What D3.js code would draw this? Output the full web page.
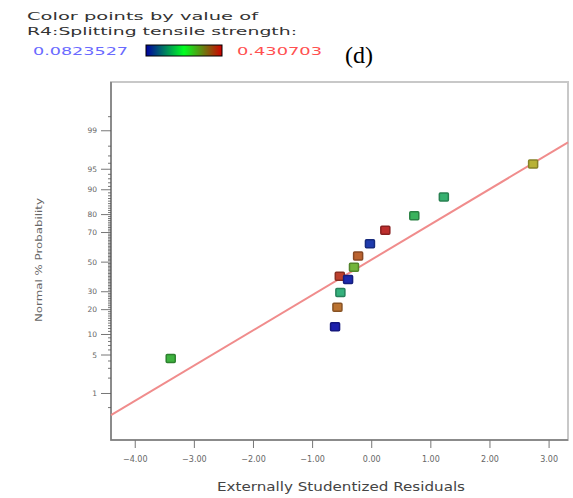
<!DOCTYPE html>
<html>
<head>
<meta charset="utf-8">
<script src="https://cdn.jsdelivr.net/npm/d3@7"></script>
<style>
  body { margin: 0; background: #fff; }
  svg { display: block; }
</style>
</head>
<body>
<div id="chart"></div>
<script>
// externally studentized residuals, normal % probability, and R4 value (colour)
var residuals = [-3.40, -0.62, -0.58, -0.53, -0.54, -0.40, -0.30, -0.23, -0.03, 0.23, 0.72, 1.22, 2.73];
var probability = [4.4, 12.6, 21.2, 29.5, 40.2, 38.0, 46.3, 54.4, 62.7, 71.4, 79.4, 87.6, 95.9];
var strength = [0.26, 0.085, 0.39, 0.21, 0.42, 0.09, 0.30, 0.40, 0.10, 0.43, 0.235, 0.22, 0.35];

var colorMin = 0.0823527, colorMax = 0.430703;
var xTicks = [-4, -3, -2, -1, 0, 1, 2, 3];
var yTicks = [1, 5, 10, 20, 30, 50, 70, 80, 90, 95, 99];
// reference line: z = intercept + slope * residual
var fitIntercept = 0.046, fitSlope = 0.625;

var width = 573, height = 498;
var margin = { top: 82, right: 5, bottom: 58, left: 111 };

// inverse normal cdf (Acklam)
function probit(p) {
    var a = [-3.969683028665376e+01, 2.209460984245205e+02, -2.759285104469687e+02, 1.383577518672690e+02, -3.066479806614716e+01, 2.506628277459239e+00],
        b = [-5.447609879822406e+01, 1.615858368580409e+02, -1.556989798598866e+02, 6.680131188771972e+01, -1.328068155288572e+01],
        c = [-7.784894002430293e-03, -3.223964580411365e-01, -2.400758277161838e+00, -2.549732539343734e+00, 4.374664141464968e+00, 2.938163982698783e+00],
        d = [7.784695709041462e-03, 3.224671290700398e-01, 2.445134137142996e+00, 3.754408661907416e+00];
    var q, r, pl = 0.02425;
    if (p < pl) {
        q = Math.sqrt(-2 * Math.log(p));
        return (((((c[0]*q+c[1])*q+c[2])*q+c[3])*q+c[4])*q+c[5]) / ((((d[0]*q+d[1])*q+d[2])*q+d[3])*q+1);
    }
    if (p > 1 - pl) {
        q = Math.sqrt(-2 * Math.log(1 - p));
        return -(((((c[0]*q+c[1])*q+c[2])*q+c[3])*q+c[4])*q+c[5]) / ((((d[0]*q+d[1])*q+d[2])*q+d[3])*q+1);
    }
    q = p - 0.5; r = q * q;
    return (((((a[0]*r+a[1])*r+a[2])*r+a[3])*r+a[4])*r+a[5])*q / (((((b[0]*r+b[1])*r+b[2])*r+b[3])*r+b[4])*r+1);
}

var svg = d3.select('#chart').append('svg').attr('width', width).attr('height', height);

var x = d3.scaleLinear().domain([-4.41, 3.32]).range([margin.left, width - margin.right]);
var zScale = d3.scaleLinear().domain([-3.15, 3.19]).range([height - margin.bottom, margin.top]);
var y = function(p) { return zScale(probit(p / 100)); };

var color = d3.scaleLinear()
    .domain([colorMin, (colorMin + colorMax) / 2, colorMax])
    .range(['#1a1aa0', '#3aa640', '#b02a2a'])
    .interpolate(d3.interpolateHsl);

// header
svg.append('text').attr('x', 27).attr('y', 20).text('Color points by value of')
    .attr('font-family', 'DejaVu Sans').attr('font-size', 11).attr('fill', '#333')
    .attr('textLength', 231).attr('lengthAdjust', 'spacingAndGlyphs');
svg.append('text').attr('x', 27).attr('y', 35).text('R4:Splitting tensile strength:')
    .attr('font-family', 'DejaVu Sans').attr('font-size', 11).attr('fill', '#333')
    .attr('textLength', 270).attr('lengthAdjust', 'spacingAndGlyphs');
svg.append('text').attr('x', 33).attr('y', 55).text(colorMin)
    .attr('font-family', 'DejaVu Sans').attr('font-size', 10).attr('fill', '#6a6aff')
    .attr('textLength', 95).attr('lengthAdjust', 'spacingAndGlyphs');
svg.append('text').attr('x', 237).attr('y', 55).text(colorMax)
    .attr('font-family', 'DejaVu Sans').attr('font-size', 10).attr('fill', '#ff5050')
    .attr('textLength', 85).attr('lengthAdjust', 'spacingAndGlyphs');

var grad = svg.append('defs').append('linearGradient').attr('id', 'cbar');
grad.selectAll('stop').data([0, 0.5, 1]).enter().append('stop')
    .attr('offset', function(d) { return d * 100 + '%'; })
    .attr('stop-color', function(d, i) { return ['#0000a0', '#00ff20', '#d00000'][i]; });
svg.append('rect').attr('x', 146).attr('y', 45).attr('width', 76).attr('height', 11)
    .attr('fill', 'url(#cbar)').attr('stroke', '#000').attr('stroke-width', 1);

svg.append('text').attr('x', 345).attr('y', 63).text('(d)')
    .attr('font-family', 'Liberation Serif').attr('font-size', 24).attr('fill', '#000');

// plot frame
var x0 = margin.left, x1 = width - margin.right, y0 = margin.top, y1 = height - margin.bottom;
svg.append('rect').attr('x', x0).attr('y', y0).attr('width', x1 - x0).attr('height', y1 - y0)
    .attr('fill', '#fff').attr('stroke', '#c8c8c8').attr('stroke-width', 2);
svg.append('path').attr('d', 'M' + x0 + ',' + y0 + 'V' + y1 + 'H' + x1)
    .attr('fill', 'none').attr('stroke', '#777').attr('stroke-width', 1.5);

// y axis minor ticks
var minor = d3.range(1, 100).concat([0.5, 99.5]);
svg.append('g').selectAll('line').data(minor).enter().append('line')
    .attr('x1', x0 - 3).attr('x2', x0)
    .attr('y1', function(d) { return y(d); }).attr('y2', function(d) { return y(d); })
    .attr('stroke', '#555').attr('stroke-width', 0.8);

var yAxis = svg.append('g').attr('transform', 'translate(' + x0 + ',0)');
yAxis.selectAll('line').data(yTicks).enter().append('line')
    .attr('x1', -10).attr('x2', -3)
    .attr('y1', function(d) { return y(d); }).attr('y2', function(d) { return y(d); })
    .attr('stroke', '#777').attr('stroke-width', 1);
yAxis.selectAll('text').data(yTicks).enter().append('text')
    .attr('x', -14).attr('y', function(d) { return y(d); }).attr('dy', '0.35em')
    .attr('text-anchor', 'end').text(function(d) { return d; })
    .attr('font-family', 'DejaVu Sans').attr('font-size', 7.5).attr('fill', '#666');

var xAxis = svg.append('g').attr('transform', 'translate(0,' + y1 + ')');
xAxis.selectAll('line').data(xTicks).enter().append('line')
    .attr('x1', function(d) { return x(d); }).attr('x2', function(d) { return x(d); })
    .attr('y1', 0).attr('y2', 8).attr('stroke', '#777').attr('stroke-width', 1);
xAxis.selectAll('text').data(xTicks).enter().append('text')
    .attr('x', function(d) { return x(d); }).attr('y', 22).attr('text-anchor', 'middle')
    .text(function(d) { return d3.format('.2f')(d); })
    .attr('font-family', 'DejaVu Sans').attr('font-size', 8).attr('fill', '#666');

svg.append('text').attr('x', 341).attr('y', 491).attr('text-anchor', 'middle')
    .text('Externally Studentized Residuals')
    .attr('font-family', 'DejaVu Sans').attr('font-size', 11.5).attr('fill', '#444')
    .attr('textLength', 248).attr('lengthAdjust', 'spacingAndGlyphs');
svg.append('text').attr('transform', 'translate(42,260) rotate(-90)').attr('text-anchor', 'middle')
    .text('Normal % Probability')
    .attr('font-family', 'DejaVu Sans').attr('font-size', 9.5).attr('fill', '#666')
    .attr('textLength', 124).attr('lengthAdjust', 'spacingAndGlyphs');

// reference line
var plot = svg.append('g');
var xd = x.domain();
plot.append('line')
    .attr('x1', x(xd[0])).attr('y1', zScale(fitIntercept + fitSlope * xd[0]))
    .attr('x2', x(xd[1])).attr('y2', zScale(fitIntercept + fitSlope * xd[1]))
    .attr('stroke', '#f08c8c').attr('stroke-width', 2);

// points
var pts = residuals.map(function(r, i) { return { r: r, p: probability[i], v: strength[i] }; });
plot.selectAll('rect.pt').data(pts).enter().append('rect').attr('class', 'pt')
    .attr('x', function(d) { return x(d.r) - 4.5; })
    .attr('y', function(d) { return y(d.p) - 4; })
    .attr('width', 9).attr('height', 8).attr('rx', 1)
    .attr('fill', function(d) { return d3.color(color(d.v)).brighter(0.2); })
    .attr('stroke', function(d) { return d3.color(color(d.v)).darker(0.7); })
    .attr('stroke-width', 1.5);
</script>
</body>
</html>
